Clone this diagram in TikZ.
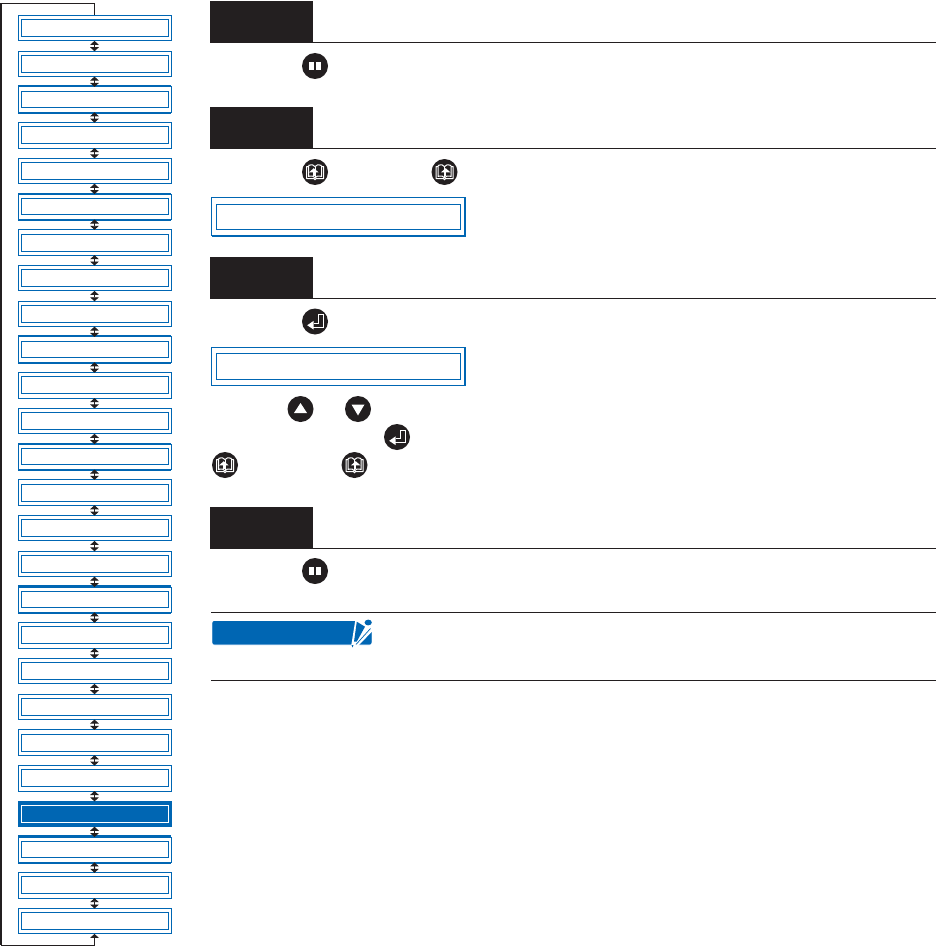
\documentclass[tikz,border=0pt]{standalone}
\usetikzlibrary{arrows.meta}
\definecolor{pblue}{RGB}{0,102,179}
\definecolor{pblack}{RGB}{35,31,32}
\definecolor{plight}{RGB}{140,185,225}
\tikzset{
  x=1pt,y=-1pt,
  outerbox/.style={draw=pblue,line width=1pt,fill=white,minimum width=153pt,minimum height=25.4pt,inner sep=0pt,outer sep=0pt},
  filledbox/.style={outerbox,fill=pblue},
  innerbox/.style={draw=pblue,line width=1pt,minimum width=147pt,minimum height=17pt,inner sep=0pt},
  thininner/.style={innerbox,minimum height=15.8pt},
  innerw/.style={innerbox,draw=white},
  thickedge/.style={draw=pblue,line width=2pt},
  stepbar/.style={fill=pblack,draw=none,minimum width=103pt,minimum height=42pt,inner sep=0pt,outer sep=0pt},
  rule/.style={draw=pblack,line width=1.1pt},
  key/.style={circle,fill=pblack,draw=none,minimum size=26pt,inner sep=0pt,outer sep=0pt},
  dbl/.style={pblack,line width=.9pt,{Triangle[width=8.6pt,length=4pt]}-{Triangle[width=8.6pt,length=4pt]}},
  sgl/.style={pblack,line width=.9pt},
  pauseicon/.pic={\fill[white] (-5.8,-4) rectangle (-.9,3.6); \fill[white] (.9,-4) rectangle (5.8,3.6);},
  enter/.pic={\draw[white,line width=.9pt,line join=miter] (-1,1.8) -- (3.5,1.8) -- (3.5,-7) -- (8,-7) -- (8,5.8) -- (-2,5.8);
     \fill[white] (-7.8,3.8) -- (-1.5,-.6) -- (-1.5,8) -- cycle;},
  book/.pic={\draw[white,line width=1pt,line join=round] (-6.5,-5.5) -- (-8.5,-5.5) -- (-8.5,6.5) -- (-1,6.5) -- (0,7.8) -- (1,6.5) -- (8.5,6.5) -- (8.5,-5.5) -- (6.5,-5.5);
     \draw[white,line width=1pt] (-6.5,-6.5) -- (-6.5,4.4) .. controls (-3,3.6) and (-1,4) .. (0,5.8) .. controls (1,4) and (3,3.6) .. (6.5,4.4) -- (6.5,-6.5);
     \draw[white,line width=1pt] (-6.5,-6.5) .. controls (-3,-7.8) and (-1,-7) .. (0,-5.4) .. controls (1,-7) and (3,-7.8) .. (6.5,-6.5);
     \draw[white,line width=.7pt] (0,-5.4) -- (0,5.8);},
  bookup/.pic={\fill[white] (-1.2,-3.8) -- (-6,.4) -- (3.6,.4) -- cycle; \draw[white,line width=1.4pt] (-1.2,0) -- (-1.2,4.2);},
  bookdown/.pic={\fill[white] (1.2,-3.8) -- (-3.6,.4) -- (6,.4) -- cycle; \draw[white,line width=1.4pt] (1.2,0) -- (1.2,4.2);},
}
\begin{document}
\begin{tikzpicture}
\useasboundingbox (0,0) rectangle (936,947);
% sidebar boxes
\foreach \n in {1,...,26}{
  \pgfmathsetmacro{\yy}{28.2+35.72*(\n-1)}
  \gdef\st{outerbox}\gdef\ist{innerbox}
  \foreach \t in {3,6,10,13,17,24}{\ifnum\n=\t\gdef\ist{thininner}\fi}
  \ifnum\n=23 \gdef\st{filledbox}\gdef\ist{innerw}\fi
  \node[\st] (b\n) at (94.5,\yy) {};
  \node[\ist] (i\n) at (94.5,\yy) {};
}
\foreach \t in {3,6,10,13,17,24}{
  \draw[thickedge] ([yshift=.6pt]b\t.north west) -- ([yshift=.6pt]b\t.north east);
  \draw[thickedge] ([yshift=-.6pt]b\t.south west) -- ([yshift=-.6pt]b\t.south east);
}
\foreach \n [evaluate=\n as \m using int(\n+1)] in {1,...,25}{
  \draw[dbl] (b\n.south) -- (b\m.north);
}
% loop line
\coordinate (tl) at (1,3.5);
\coordinate (bl) at (1,945);
\coordinate (tt) at (94.5,3.5);
\coordinate (bt) at (94.5,945);
\draw[sgl] (b1.north) -- (tt) -- (tl);
\draw[pblack,line width=2.2pt] (tl) -- (bl);
\draw[sgl] (bl) -- (bt);
\draw[sgl,-{Triangle[width=8.6pt,length=4pt]}] (bt) -- (b26.south);
% steps
\foreach \nm/\y in {s1/22,s2/128,s3/278,s4/527.5}{
  \node[stepbar,anchor=west] (\nm) at (210,\y) {};
  \coordinate (\nm e) at (936,\y+20.6);
  \draw[rule] (\nm.south west |- \nm e) -- (\nm e);
}
% keys
\node[key] (k1) at (315,66) {}; \pic at (k1) {pauseicon};
\node[key] (k2) at (315,172) {}; \pic at (k2) {book}; \pic at (k2) {bookup};
\node[key] (k3) at (444.5,172) {}; \pic at (k3) {book}; \pic at (k3) {bookdown};
\node[key] (k4) at (315,321.5) {}; \pic at (k4) {enter};
\node[key] (k5) at (300.5,409) {}; \fill[white] (k5) ++(0,-6) -- ++(6.5,10) -- ++(-13,0) -- cycle;
\node[key] (k6) at (358,409) {}; \fill[white] (k6) ++(0,6.5) -- ++(6.5,-11) -- ++(-13,0) -- cycle;
\node[key] (k7) at (397,437) {}; \pic at (k7) {enter};
\node[key] (k8) at (225,465) {}; \pic at (k8) {book}; \pic at (k8) {bookup};
\node[key] (k9) at (354.5,465) {}; \pic at (k9) {book}; \pic at (k9) {bookdown};
\node[key] (k10) at (315,571) {}; \pic at (k10) {pauseicon};
% panels
\node[draw=pblue,line width=1pt,minimum width=254pt,minimum height=38pt,inner sep=0pt,outer sep=0pt] (p1) at (338.5,216.8) {};
\draw[pblue,line width=2pt] (p1.north east) ++(-.5,0) -- ++(0,38.3) -- ++(-253.5,0);
\node[draw=pblue,line width=.9pt,minimum width=244pt,minimum height=25pt,inner sep=0pt] (p1i) at (338.5,217) {};
\node[draw=pblue,line width=1pt,minimum width=254pt,minimum height=38pt,inner sep=0pt,outer sep=0pt] (p2) at (338.5,366.5) {};
\draw[pblue,line width=2pt] (p2.north east) ++(-.5,0) -- ++(0,38);
\node[draw=pblue,line width=.9pt,minimum width=244pt,minimum height=25.5pt,inner sep=0pt] (p2i) at (338.5,366.2) {};
% note
\coordinate (n1l) at (211,612.4); \coordinate (n1r) at (936,612.4);
\coordinate (n2l) at (211,680.4); \coordinate (n2r) at (936,680.4);
\draw[rule] (n1l) -- (n1r);
\draw[rule] (n2l) -- (n2r);
\fill[plight,rounded corners=2pt] (212.4,621) rectangle (371.5,645);
\fill[pblue,rounded corners=2pt] (212.4,621) rectangle (371.5,644.3);
% pencil cut-out
\fill[white] (355.5,619) -- (374,619) -- (374,629.5) -- (358,646) -- (351,647) -- cycle;
\fill[pblue] (356.8,621.7) -- (365,626.7) -- (356.7,641.7) -- (354,641.7) -- cycle;
\draw[pblue,line width=.7pt] (356,644.5) -- (370.5,628.5);
\fill[pblue] (351.5,645) -- (353.5,645) -- (352.5,647.5) -- cycle;
\fill[pblue] (368.2,622.5) ellipse (3.6 and 2.9);
\end{tikzpicture}
\end{document}
